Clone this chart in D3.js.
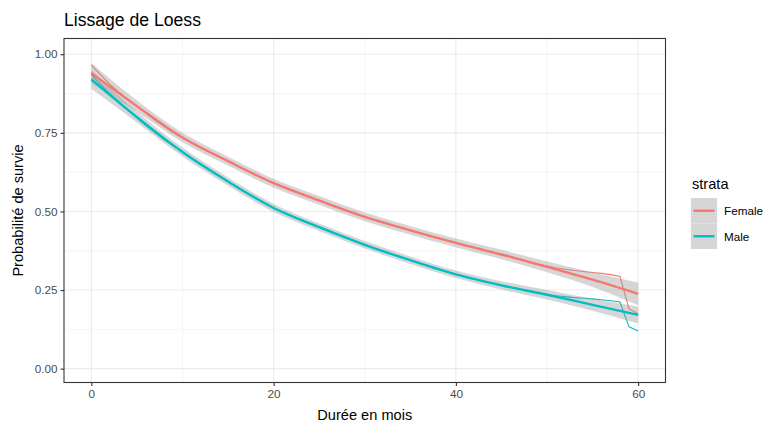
<!DOCTYPE html>
<html>
<head>
<meta charset="utf-8">
<script src="https://cdn.jsdelivr.net/npm/d3@7"></script>
<style>
  body { margin: 0; background: #fff; }
  text { font-family: "Liberation Sans", Arial, sans-serif; }
</style>
</head>
<body>
<svg id="chart" width="772" height="426"></svg>
<script>
// Kaplan-Meier survival estimates, one value per month (0..60)
const months = d3.range(0, 61);
const femaleKM = [0.965,0.935,0.905,0.88,0.857,0.835,0.812,0.79,0.77,0.752,
  0.735,0.718,0.702,0.688,0.673,0.66,0.645,0.631,0.617,0.603,
  0.59,0.579,0.568,0.557,0.546,0.535,0.524,0.514,0.503,0.493,
  0.483,0.474,0.466,0.457,0.448,0.44,0.432,0.424,0.416,0.408,
  0.40,0.393,0.386,0.378,0.371,0.364,0.357,0.349,0.341,0.333,
  0.326,0.320,0.316,0.312,0.309,0.306,0.303,0.299,0.293,0.19,0.175];
const maleKM = [0.935,0.905,0.875,0.848,0.822,0.797,0.772,0.75,0.728,0.708,
  0.689,0.669,0.65,0.631,0.613,0.595,0.578,0.56,0.543,0.527,
  0.511,0.498,0.486,0.474,0.462,0.45,0.439,0.427,0.416,0.405,
  0.394,0.384,0.374,0.364,0.354,0.345,0.336,0.327,0.318,0.309,
  0.30,0.293,0.286,0.279,0.272,0.265,0.259,0.253,0.247,0.241,
  0.236,0.232,0.229,0.226,0.224,0.222,0.219,0.216,0.212,0.133,0.12];

// Loess fit and its confidence half-width, every 5 months
const loessX = [0,5,10,15,20,25,30,35,40,45,50,55,60];
const femaleLoess = [0.94,0.835,0.735,0.66,0.59,0.535,0.483,0.44,0.40,0.363,0.324,0.283,0.238];
const femaleSE = [0.032,0.018,0.015,0.014,0.014,0.014,0.014,0.014,0.014,0.015,0.017,0.023,0.036];
const maleLoess = [0.92,0.80,0.689,0.595,0.511,0.45,0.394,0.345,0.30,0.265,0.235,0.203,0.171];
const maleSE = [0.03,0.017,0.014,0.013,0.013,0.012,0.012,0.012,0.012,0.013,0.015,0.019,0.027];

const strata = ["Female", "Male"];
const colors = ["#F8766D", "#00BFC4"];
const xTicks = [0, 20, 40, 60];
const yTicks = [0, 0.25, 0.5, 0.75, 1];

const svg = d3.select("#chart");
const panel = { left: 64, right: 665.5, top: 38.5, bottom: 382.5 };

const x = d3.scaleLinear().domain([-3, 63]).range([panel.left, panel.right]);
const y = d3.scaleLinear().domain([-0.044, 1.05]).range([panel.bottom, panel.top]);

// panel background and grid
svg.append("rect").attr("x", panel.left).attr("y", panel.top)
  .attr("width", panel.right - panel.left).attr("height", panel.bottom - panel.top)
  .attr("fill", "#fff");

const grid = svg.append("g");
[10, 30, 50].forEach(v => grid.append("line")
  .attr("x1", x(v)).attr("x2", x(v)).attr("y1", panel.top).attr("y2", panel.bottom)
  .attr("stroke", "#ebebeb").attr("stroke-width", 0.55));
[0.125, 0.375, 0.625, 0.875].forEach(v => grid.append("line")
  .attr("y1", y(v)).attr("y2", y(v)).attr("x1", panel.left).attr("x2", panel.right)
  .attr("stroke", "#ebebeb").attr("stroke-width", 0.55));
xTicks.forEach(v => grid.append("line")
  .attr("x1", x(v)).attr("x2", x(v)).attr("y1", panel.top).attr("y2", panel.bottom)
  .attr("stroke", "#ebebeb").attr("stroke-width", 1.1));
yTicks.forEach(v => grid.append("line")
  .attr("y1", y(v)).attr("y2", y(v)).attr("x1", panel.left).attr("x2", panel.right)
  .attr("stroke", "#ebebeb").attr("stroke-width", 1.1));

const plot = svg.append("g");

// survival curves (thin)
const kmLine = d3.line().x((d, i) => x(months[i])).y(d => y(d));
[femaleKM, maleKM].forEach((s, k) => plot.append("path")
  .attr("d", kmLine(s)).attr("fill", "none")
  .attr("stroke", colors[k]).attr("stroke-width", 1.1));

// confidence ribbons
const fits = [
  { fit: femaleLoess, se: femaleSE },
  { fit: maleLoess, se: maleSE }
];
const ribbon = d3.area()
  .x((d, i) => x(loessX[i]))
  .y0(d => y(d[0] - d[1])).y1(d => y(d[0] + d[1]))
  .curve(d3.curveMonotoneX);
fits.forEach(f => plot.append("path")
  .attr("d", ribbon(f.fit.map((v, i) => [v, f.se[i]])))
  .attr("fill", "#999999").attr("fill-opacity", 0.4));

// loess lines (thick)
const smoothLine = d3.line().x((d, i) => x(loessX[i])).y(d => y(d)).curve(d3.curveMonotoneX);
fits.forEach((f, k) => plot.append("path")
  .attr("d", smoothLine(f.fit)).attr("fill", "none")
  .attr("stroke", colors[k]).attr("stroke-width", 2.4));

// panel border
svg.append("rect").attr("x", panel.left).attr("y", panel.top)
  .attr("width", panel.right - panel.left).attr("height", panel.bottom - panel.top)
  .attr("fill", "none").attr("stroke", "#333333").attr("stroke-width", 1.1);

// axes
const xAxis = svg.append("g").attr("transform", `translate(0,${panel.bottom})`)
  .call(d3.axisBottom(x).tickValues(xTicks).tickSize(3.5).tickPadding(4).tickFormat(d3.format("d")));
const yAxis = svg.append("g").attr("transform", `translate(${panel.left},0)`)
  .call(d3.axisLeft(y).tickValues(yTicks).tickSize(3.5).tickPadding(3).tickFormat(d3.format(".2f")));
[xAxis, yAxis].forEach(a => {
  a.select(".domain").remove();
  a.selectAll(".tick line").attr("stroke", "#333333").attr("stroke-width", 1.1);
  a.selectAll(".tick text").attr("fill", "#4d4d4d").style("font-size", "11.7px")
    .style("font-family", "'Liberation Sans', Arial, sans-serif");
});

// titles
svg.append("text").attr("x", 64).attr("y", 26).attr("fill", "#000")
  .style("font-size", "17.6px").text("Lissage de Loess");
svg.append("text").attr("x", (panel.left + panel.right) / 2).attr("y", 420)
  .attr("text-anchor", "middle").attr("fill", "#000").style("font-size", "14.6px")
  .text("Durée en mois");
svg.append("text").attr("transform", `translate(23,${(panel.top + panel.bottom) / 2}) rotate(-90)`)
  .attr("text-anchor", "middle").attr("fill", "#000").style("font-size", "14.6px")
  .text("Probabilité de survie");

// legend
const legend = svg.append("g").attr("transform", "translate(691,0)");
legend.append("text").attr("x", 1).attr("y", 189).attr("fill", "#000")
  .style("font-size", "14.6px").text("strata");
strata.forEach((s, i) => {
  const top = 198 + i * 25.5;
  legend.append("rect").attr("x", 0).attr("y", top).attr("width", 26).attr("height", 25.5)
    .attr("fill", "#d6d6d6");
  legend.append("line").attr("x1", 2.5).attr("x2", 23.5)
    .attr("y1", top + 12.75).attr("y2", top + 12.75)
    .attr("stroke", colors[i]).attr("stroke-width", 2.4);
  legend.append("text").attr("x", 33).attr("y", top + 17).attr("fill", "#000")
    .style("font-size", "11.7px").text(s);
});
</script>
</body>
</html>
